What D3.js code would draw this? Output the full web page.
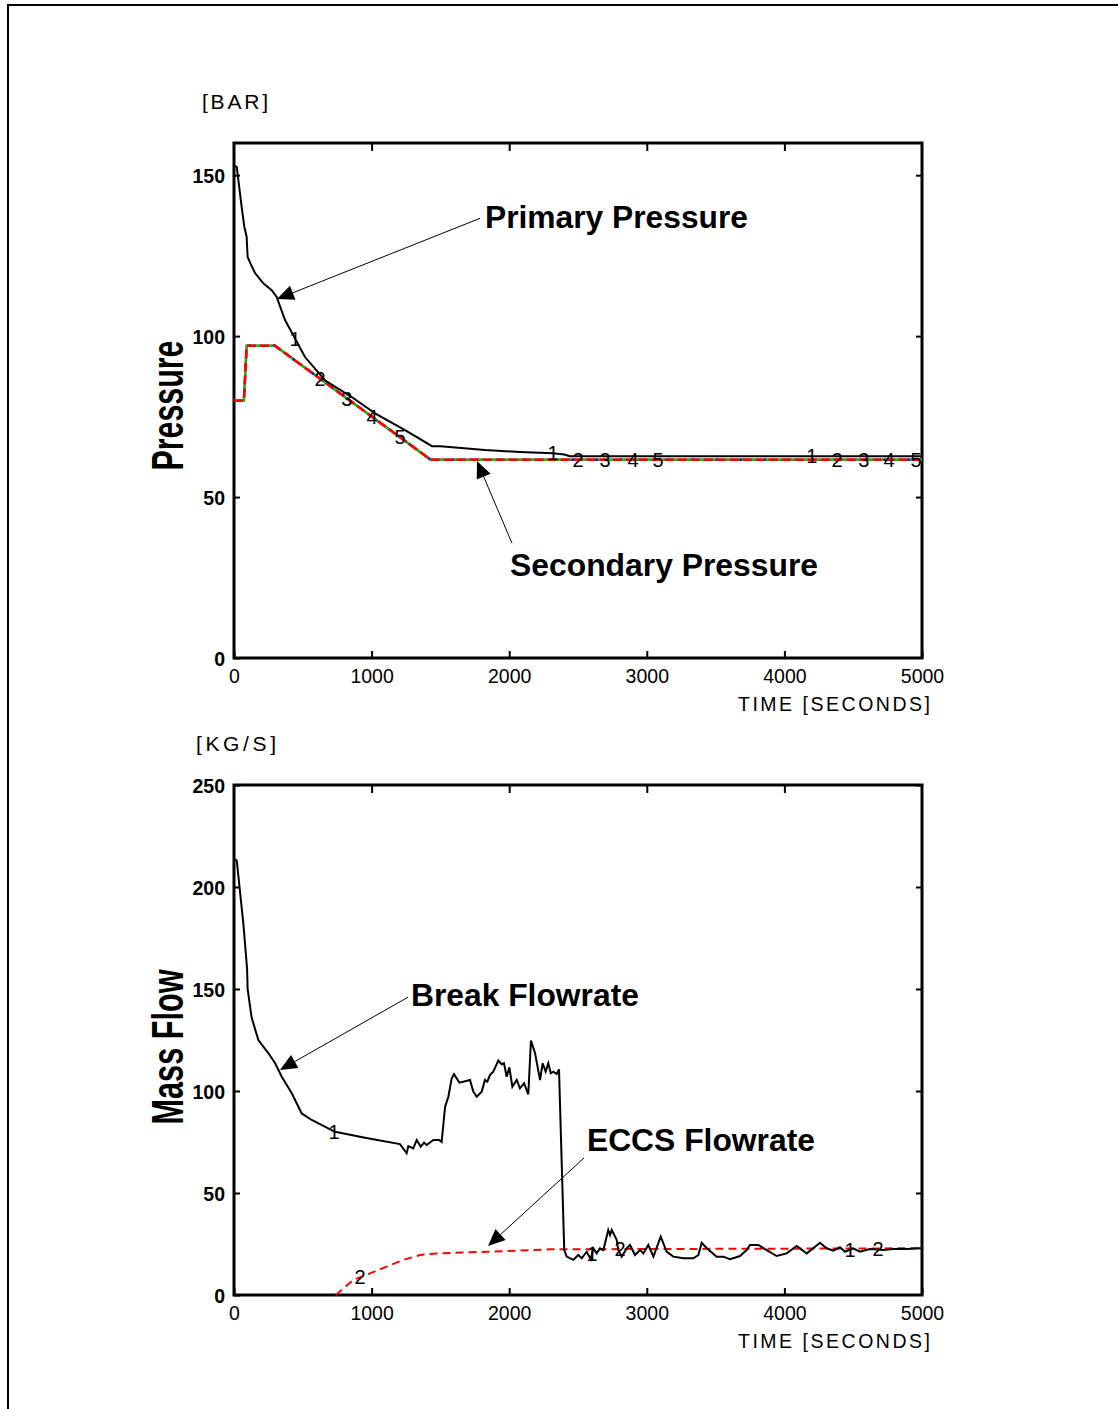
<!DOCTYPE html>
<html><head><meta charset="utf-8">
<script src="https://cdn.jsdelivr.net/npm/d3@7"></script>
<style>body{margin:0;background:#fff}</style>
</head><body>
<svg id="c" width="1118" height="1409"></svg>
<script>
// ---------- data ----------
const timeTicks = [0, 1000, 2000, 3000, 4000, 5000];
const pressureTicks = [0, 50, 100, 150];
const flowTicks = [0, 50, 100, 150, 200, 250];

const primaryTime = [0, 20, 56, 75, 92, 99, 120, 153, 213, 274, 310, 371, 443, 516, 661, 858, 1025, 1243, 1439, 1500, 1824, 2078, 2318, 2400, 2440, 5000];
const primaryPressure = [153, 152.6, 140, 134, 130.8, 124.6, 122.5, 119.6, 116.4, 114.3, 112.2, 105, 99.3, 93.5, 86.3, 81, 76, 70.8, 65.8, 65.8, 64.6, 64.0, 63.6, 63.2, 62.7, 62.7];

const secondaryTime = [0, 72, 92, 298, 1430, 5000];
const secondaryPressure = [80, 80, 97, 97, 61.6, 61.6];

const breakTime = [0, 20, 68, 95, 99, 128, 177, 249, 298, 347, 419, 492, 565, 734, 952, 1206, 1255, 1267, 1303, 1328, 1357, 1381, 1400, 1449, 1492, 1509, 1534, 1558, 1582, 1599, 1638, 1715, 1739, 1764, 1800, 1824, 1841, 1860, 1884, 1921, 1945, 1962, 1982, 2001, 2023, 2055, 2078, 2108, 2139, 2158, 2188, 2224, 2243, 2265, 2284, 2302, 2321, 2345, 2362, 2381, 2400, 2418, 2466, 2502, 2527, 2563, 2592, 2611, 2636, 2660, 2684, 2720, 2733, 2745, 2781, 2793, 2818, 2854, 2878, 2914, 2951, 2975, 3011, 3048, 3101, 3145, 3193, 3266, 3338, 3375, 3399, 3436, 3508, 3557, 3605, 3677, 3726, 3750, 3811, 3871, 3944, 4016, 4089, 4162, 4259, 4307, 4356, 4404, 4440, 4501, 4549, 4622, 4719, 4792, 4889, 4985, 5000];
const breakFlow = [214, 213, 182, 160, 150, 136, 125, 118.6, 113.7, 107, 99, 89, 85.8, 80, 77.1, 74, 69.5, 73, 71.9, 76, 72.7, 74.7, 73.5, 76, 76, 75, 92.3, 97.2, 106.2, 108.2, 104.1, 105.4, 99.7, 97.2, 99.7, 105.4, 104.6, 107.8, 109.5, 114.9, 113.1, 113.6, 107, 111.6, 102.1, 105.4, 101.3, 103.8, 98.4, 124.7, 118.5, 105.4, 113.6, 109.5, 113.6, 108.7, 109.5, 108.3, 110.6, 66, 22, 18.8, 17.2, 19.6, 18, 21.2, 17.5, 22.9, 20.4, 22.9, 22, 31.9, 29.4, 31.9, 27, 22, 18.8, 22.9, 24.5, 19.6, 22, 20.4, 24.5, 18.8, 28.6, 21.2, 18.8, 18, 18, 19.6, 25.6, 22.9, 18.8, 18.8, 17.5, 19.1, 22, 24.5, 24.5, 22, 19.1, 20.4, 24, 20.4, 25.6, 22.9, 21.7, 23.4, 21.2, 22.9, 21.2, 22.5, 22, 22.5, 22.5, 22.9, 22.9];

const eccsTime = [740, 867, 988, 1110, 1230, 1352, 1473, 1836, 2297, 5000];
const eccsFlow = [0, 7.4, 10.6, 13.9, 17.2, 19.6, 20.4, 21.2, 22.4, 22.9];

const pressureMarkerTimes = [[443, 2318, 4200], [625, 2500, 4382], [820, 2696, 4578], [1003, 2900, 4760], [1206, 3081, 4956]];
const flowMarkerTimes = [[727, 2602, 4477], [916, 2805, 4680]];

// ---------- helpers ----------
const svg = d3.select("#c");
const W = 1118, H = 1409;
svg.append("rect").attr("x", 8).attr("y", 5).attr("width", W).attr("height", H)
  .attr("fill", "none").attr("stroke", "#000").attr("stroke-width", 2);

const tickFont = "'Liberation Sans', Arial, sans-serif";
const boldFont = "'Liberation Sans', Arial, Helvetica, sans-serif";

function interp(ts, vs, t) {
  const i = d3.bisectRight(ts, t);
  if (i <= 0) return vs[0];
  if (i >= ts.length) return vs[vs.length - 1];
  const t0 = ts[i - 1], t1 = ts[i];
  return vs[i - 1] + (vs[i] - vs[i - 1]) * (t - t0) / (t1 - t0);
}

function panel(o) {
  const x = d3.scaleLinear().domain([0, 5000]).range([234, 922]);
  const y = d3.scaleLinear().domain([0, o.ymax]).range([o.bottom, o.top]);
  const g = svg.append("g");

  const ax = (axis, tx, ty, labels) => {
    const a = g.append("g").attr("transform", `translate(${tx},${ty})`).call(axis);
    a.select(".domain").remove();
    a.selectAll(".tick line").attr("stroke", "#000").attr("stroke-width", 2);
    a.selectAll("text").attr("fill", "#000").style("font-family", tickFont).style("font-size", "19.5px");
    if (!labels) a.selectAll("text").remove();
    return a;
  };
  ax(d3.axisBottom(x).tickValues(timeTicks).tickSize(-7).tickPadding(11).tickFormat(d3.format("d")), 0, o.bottom, true);
  ax(d3.axisTop(x).tickValues(timeTicks.slice(1, -1)).tickSize(-8), 0, o.top, false);
  const la = ax(d3.axisLeft(y).tickValues(o.yticks).tickSize(-6).tickPadding(9).tickFormat(d3.format("d")), 234, 0, true);
  la.selectAll("text").style("font-weight", "bold").attr("dy", "0.36em");
  ax(d3.axisRight(y).tickValues(o.yticks.filter(v => v > 0)).tickSize(-6), 922, 0, false);

  g.append("rect").attr("x", 234).attr("y", o.top).attr("width", 922 - 234).attr("height", o.bottom - o.top)
    .attr("fill", "none").attr("stroke", "#000").attr("stroke-width", 3);

  // unit label
  g.append("text").attr("x", o.unitX).attr("y", o.top - 34).text(o.unit)
    .attr("textLength", o.unitLen).attr("lengthAdjust", "spacing")
    .style("font-family", tickFont).style("font-size", "21px");
  // time label
  g.append("text").attr("x", 738).attr("y", o.bottom + 53)
    .attr("textLength", 192).attr("lengthAdjust", "spacing")
    .text("TIME [SECONDS]")
    .style("font-family", tickFont).style("font-size", "19.5px");
  // y title
  const cy = (o.top + o.bottom) / 2 + o.titleShift;
  g.append("text").attr("transform", `translate(183,${cy}) rotate(-90)`).attr("text-anchor", "middle")
    .attr("textLength", o.titleLen).attr("lengthAdjust", "spacingAndGlyphs")
    .text(o.title).style("font-family", boldFont).style("font-weight", "bold").style("font-size", "44px");

  const line = d3.line().x(d => x(d[0])).y(d => y(d[1]));
  return {x, y, g, line};
}

function arrow(p, a) {
  const {x, y, g} = p;
  const sx = x(a.from[0]), sy = p.y(a.from[1]), tx = x(a.tip[0]), ty = y(a.tip[1]);
  const dx = tx - sx, dy = ty - sy, L = Math.hypot(dx, dy), ux = dx / L, uy = dy / L;
  const hl = 17, hw = 7.5;
  const bx = tx - ux * hl, by = ty - uy * hl;
  g.append("line").attr("x1", sx).attr("y1", sy).attr("x2", bx).attr("y2", by).attr("stroke", "#000").attr("stroke-width", 1);
  g.append("polygon").attr("points", [[tx, ty], [bx - uy * hw, by + ux * hw], [bx + uy * hw, by - ux * hw]].map(q => q.join(",")).join(" "))
    .attr("fill", "#000");
  g.append("text").attr("x", x(a.text[0])).attr("y", y(a.text[1])).text(a.label)
    .attr("textLength", a.len).attr("lengthAdjust", "spacingAndGlyphs")
    .style("font-family", boldFont).style("font-weight", "bold").style("font-size", "31px");
}

function markers(p, ts, vs, times, label) {
  times.forEach(t => {
    p.g.append("text").attr("x", p.x(t)).attr("y", p.y(interp(ts, vs, t))).attr("dy", "0.36em")
      .attr("text-anchor", "middle").text(label)
      .style("font-family", tickFont).style("font-size", "20px");
  });
}

// ---------- top panel ----------
const p1 = panel({top: 143, bottom: 658, ymax: 160, yticks: pressureTicks, unit: "[BAR]", unitX: 202, unitLen: 66, title: "Pressure", titleLen: 130, titleShift: 5});
const secData = d3.zip(secondaryTime, secondaryPressure);
const priData = d3.zip(primaryTime, primaryPressure);
p1.g.append("path").datum(secData).attr("d", p1.line).attr("fill", "none").attr("stroke", "#ff00ff").attr("stroke-width", 2.4);
p1.g.append("path").datum(secData).attr("d", p1.line).attr("fill", "none").attr("stroke", "#00cc00").attr("stroke-width", 2.4);
p1.g.append("path").datum(secData).attr("d", p1.line).attr("fill", "none").attr("stroke", "#0000ff").attr("stroke-width", 2.4).attr("stroke-dasharray", "2,22").attr("stroke-dashoffset", 5);
p1.g.append("path").datum(secData).attr("d", p1.line).attr("fill", "none").attr("stroke", "#ff0000").attr("stroke-width", 2.6).attr("stroke-dasharray", "9,4");
p1.g.append("path").datum(priData).attr("d", p1.line).attr("fill", "none").attr("stroke", "#000").attr("stroke-width", 2);
markers(p1, primaryTime, primaryPressure, pressureMarkerTimes[0], "1");
for (let k = 1; k < 5; k++) markers(p1, secondaryTime, secondaryPressure, pressureMarkerTimes[k], String(k + 1));
arrow(p1, {label: "Primary Pressure", text: [1824, 133.5], from: [1788, 136.6], tip: [312, 111.5], len: 263});
arrow(p1, {label: "Secondary Pressure", text: [2006, 25.5], from: [2020, 35.7], tip: [1766, 61.2], len: 308});

// ---------- bottom panel ----------
const p2 = panel({top: 785, bottom: 1295, ymax: 250, yticks: flowTicks, unit: "[KG/S]", unitX: 196, unitLen: 80, title: "Mass Flow", titleLen: 155, titleShift: 7});
p2.g.append("path").datum(d3.zip(eccsTime, eccsFlow)).attr("d", p2.line).attr("fill", "none").attr("stroke", "#ff0000").attr("stroke-width", 2).attr("stroke-dasharray", "8,5");
p2.g.append("path").datum(d3.zip(breakTime, breakFlow)).attr("d", p2.line).attr("fill", "none").attr("stroke", "#000").attr("stroke-width", 2);
markers(p2, breakTime, breakFlow, flowMarkerTimes[0], "1");
markers(p2, eccsTime, eccsFlow, flowMarkerTimes[1], "2");
arrow(p2, {label: "Break Flowrate", text: [1286, 141.7], from: [1265, 146], tip: [334, 110.3], len: 228});
arrow(p2, {label: "ECCS Flowrate", text: [2565, 70.6], from: [2544, 67.2], tip: [1846, 24], len: 228});
</script>
</body></html>
